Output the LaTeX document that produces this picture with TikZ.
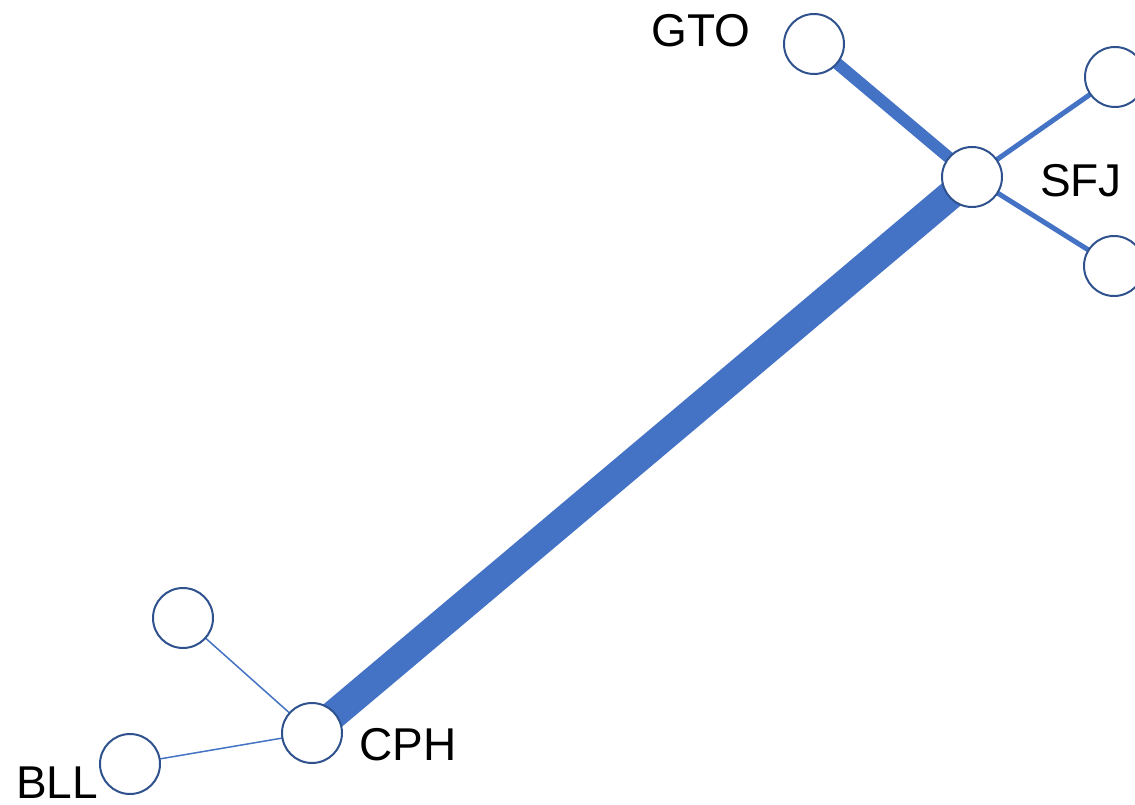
\documentclass[tikz,border=0pt]{standalone}
\usepackage{fontspec}
\setmainfont{Liberation Sans}
\usetikzlibrary{backgrounds}
\definecolor{edgeblue}{HTML}{4472C4}
\definecolor{rimblue}{HTML}{2F528F}
\tikzset{
  vtx/.style={circle, draw=rimblue, line width=2pt, fill=white, minimum size=60pt, inner sep=0pt},
  lbl/.style={inner sep=0pt, font=\fontsize{46}{55}\selectfont},
  edge/.style={draw=edgeblue, line cap=butt}
}
\begin{document}
\begin{tikzpicture}[x=1pt, y=-1pt]
\useasboundingbox (0,0) rectangle (1135,805);
\clip (0,0) rectangle (1135,805);
\node[vtx] (gto) at (814,44) {};
\node[vtx] (rt) at (1115,77) {};
\node[vtx] (sfj) at (972,177) {};
\node[vtx] (rb) at (1114,266) {};
\node[vtx] (cph) at (312,733) {};
\node[vtx] (tl) at (183,618) {};
\node[vtx] (bll) at (130,764) {};
\begin{scope}[on background layer]
\draw[edge, line width=29pt] (cph.center) -- (sfj.center);
\draw[edge, line width=12pt] (gto.center) -- (sfj.center);
\draw[edge, line width=5pt] (sfj.center) -- (rt.center);
\draw[edge, line width=5pt] (sfj.center) -- (rb.center);
\draw[edge, line width=1.5pt] (cph.center) -- (tl.center);
\draw[edge, line width=1.5pt] (cph.center) -- (bll.center);
\end{scope}
\node[lbl] (lgto) at (701,31) {GTO};
\node[lbl] (lsfj) at (1081,181) {SFJ};
\node[lbl] (lcph) at (408,745) {CPH};
\node[lbl] (lbll) at (57,783) {BLL};
\end{tikzpicture}
\end{document}
